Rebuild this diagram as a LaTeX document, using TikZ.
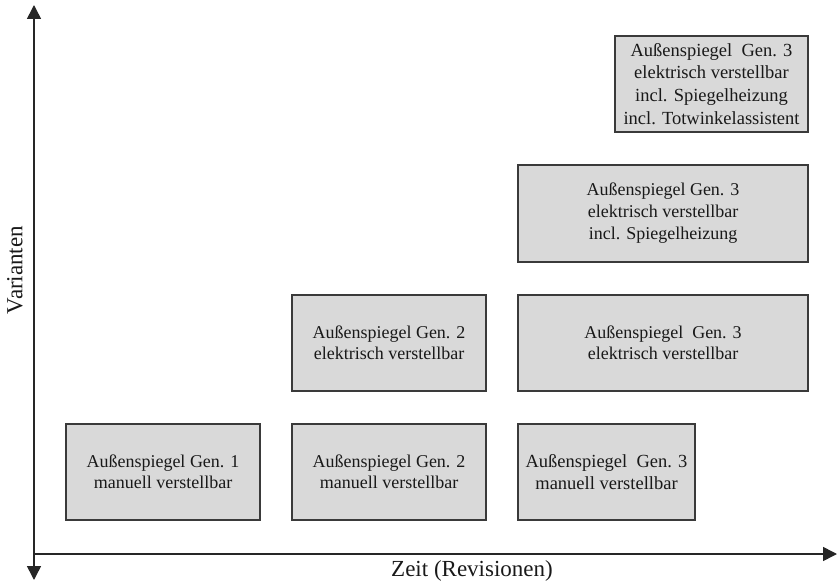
\documentclass[tikz,border=0pt]{standalone}
\usepackage{fontspec}
\setmainfont{Liberation Serif}
\usetikzlibrary{arrows.meta}
\definecolor{boxfill}{HTML}{D9D9D9}
\definecolor{boxline}{HTML}{3A3A3A}
\begin{document}
\begin{tikzpicture}[x=1pt,y=-1pt,
  variant/.style={draw=boxline, line width=1.1pt, fill=boxfill, align=center,
    inner sep=0pt, font=\fontsize{18}{20.8}\selectfont, text=black!90},
  larger/.style={font=\fontsize{18.5}{22.8}\selectfont},
  axis/.style={line width=1.5pt, draw=black!85,
    -{Triangle[length=14pt,width=14pt]}},
  axislabel/.style={font=\fontsize{23}{25}\selectfont, text=black!90}]
  \useasboundingbox (0,0) rectangle (837,585);

  % axes
  \coordinate (origin) at (34,554);
  \coordinate (ytop) at (34,5);
  \coordinate (ybot) at (34,580);
  \coordinate (xend) at (837,554);
  \draw[axis, {Triangle[length=14pt,width=14pt]}-{Triangle[length=14pt,width=14pt]}] (ybot) -- (ytop);
  \draw[axis] (origin) -- (xend);
  \node[axislabel] (xlabel) at (472,571) {Zeit (Revisionen)};
  \node[axislabel, rotate=90] (ylabel) at (15,270) {Varianten};

  % generation 1
  \node[variant, minimum width=194pt, minimum height=96pt] (g1m) at (163,472)
    {Außenspiegel Gen. 1\\manuell verstellbar};
  % generation 2
  \node[variant, minimum width=194pt, minimum height=96pt] (g2m) at (389,472)
    {Außenspiegel Gen. 2\\manuell verstellbar};
  \node[variant, minimum width=194pt, minimum height=96pt] (g2e) at (389,343)
    {Außenspiegel Gen. 2\\elektrisch verstellbar};
  % generation 3
  \node[variant, larger, minimum width=177pt, minimum height=96pt] (g3m) at (606.5,472)
    {Außenspiegel\ \ Gen. 3\\manuell verstellbar};
  \node[variant, minimum width=290pt, minimum height=96pt] (g3e) at (663,343)
    {Außenspiegel\ \ Gen. 3\\elektrisch verstellbar};
  \node[variant, minimum width=290pt, minimum height=97pt, font=\fontsize{18}{22}\selectfont] (g3h) at (663,213.5)
    {Außenspiegel Gen. 3\\elektrisch verstellbar\\incl. Spiegelheizung};
  \node[variant, larger, minimum width=193pt, minimum height=96pt] (g3t) at (711.5,84)
    {Außenspiegel\ \ Gen. 3\\elektrisch verstellbar\\incl. Spiegelheizung\\incl. Totwinkelassistent};
\end{tikzpicture}
\end{document}
